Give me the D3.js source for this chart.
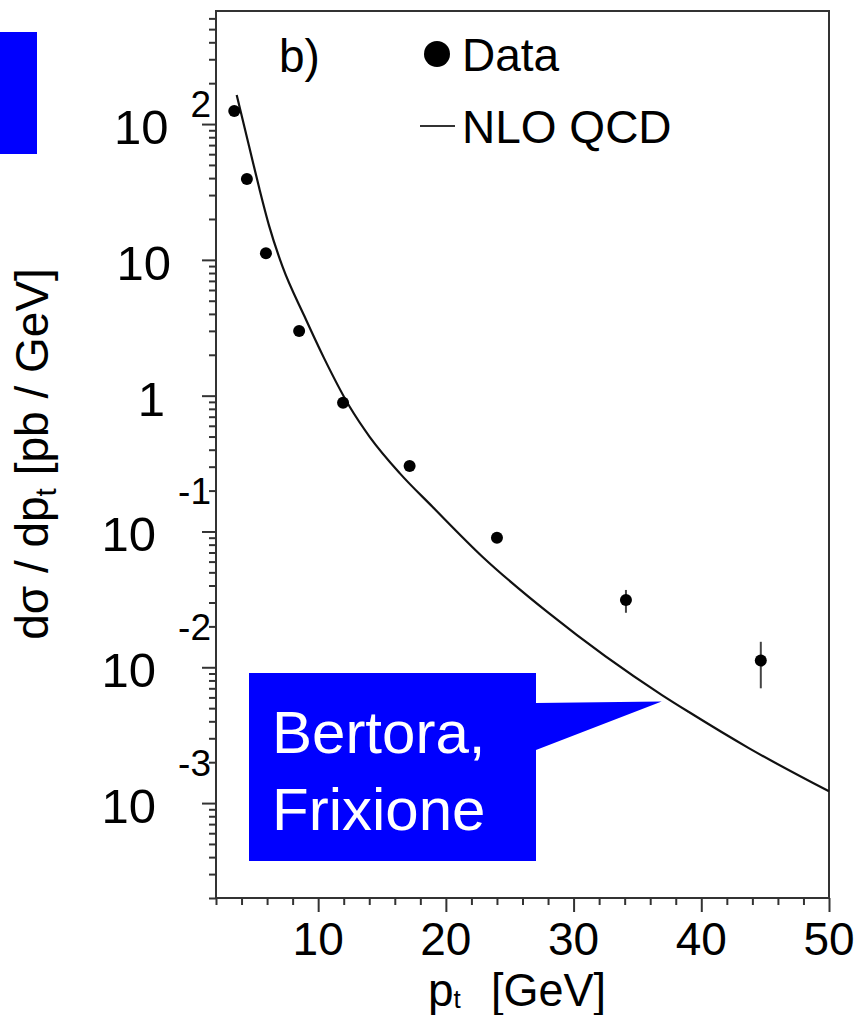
<!DOCTYPE html>
<html>
<head>
<meta charset="utf-8">
<script src="https://cdn.jsdelivr.net/npm/d3@7"></script>
<style>
  html, body { margin: 0; padding: 0; background: #fff; }
  svg { display: block; font-family: "Liberation Sans", Arial, Helvetica, sans-serif; }
</style>
</head>
<body>
<svg id="chart" width="862" height="1015"></svg>
<script>
// ---- data ----
const dataPt      = [3.43, 4.42, 5.91, 8.51, 11.95, 17.16, 24.0, 34.1, 44.66];
const dataValue   = [125, 39.4, 11.2, 2.99, 0.887, 0.303, 0.090, 0.0313, 0.0112];
const dataErrUp   = [8, 2.5, 0.7, 0.18, 0.05, 0.018, 0.006, 0.0058, 0.0042];
const dataErrDown = [8, 2.5, 0.7, 0.18, 0.05, 0.018, 0.006, 0.0061, 0.0042];

const nloPt    = [3.62, 4.60, 5.38, 6.16, 7.21, 8.90, 10.46, 12.47, 14.03, 16.38, 18.95, 22.86, 28.09, 36.92, 39.03, 43.72, 50];
const nloValue = [163.7, 68.1, 33.9, 17.8, 8.91, 3.89, 1.89, 0.828, 0.498, 0.269, 0.152, 0.0652, 0.0249, 0.00624, 0.00468, 0.00254, 0.00122];

const xMajorTicks  = [10, 20, 30, 40, 50];
const xTickLabels  = ["10", "20", "30", "40", "50"];
const yMajorTicks  = [1e-3, 1e-2, 1e-1, 1, 10, 100];
const yTickBase    = ["10", "10", "10", "1", "10", "10"];
const yTickExp     = ["-3", "-2", "-1", "", "", "2"];

const legendLabels = ["Data", "NLO QCD"];
const panelLabel = "b)";
const calloutLines = ["Bertora,", "Frixione"];
const calloutTip = [36.9, 0.0056];

// ---- layout ----
const svg = d3.select("#chart");
const L = 216, R = 829, T = 11, B = 898;
const x = d3.scaleLinear().domain([2, 50]).range([L, R]);
const y = d3.scaleLog().domain([2e-4, 680]).range([B, T]);

// top-left blue block
svg.append("rect").attr("x", 0).attr("y", 32).attr("width", 37).attr("height", 122).attr("fill", "#0000ff");

// frame
svg.append("rect").attr("x", L).attr("y", T).attr("width", R - L).attr("height", B - T)
  .attr("fill", "none").attr("stroke", "#333").attr("stroke-width", 2);

// x axis ticks
const xMinor = d3.range(2, 50, 2).filter(v => !xMajorTicks.includes(v));
svg.append("g").attr("transform", `translate(0,${B})`)
  .call(d3.axisBottom(x).tickValues(xMinor).tickSize(7).tickFormat(""))
  .call(g => { g.select(".domain").remove(); g.selectAll("line").attr("stroke", "#333").attr("stroke-width", 2); });
svg.append("g").attr("transform", `translate(0,${B})`)
  .call(d3.axisBottom(x).tickValues(xMajorTicks).tickSize(14).tickFormat(""))
  .call(g => { g.select(".domain").remove(); g.selectAll("line").attr("stroke", "#333").attr("stroke-width", 2); });
svg.append("g").selectAll("text").data(xMajorTicks).join("text")
  .attr("x", d => x(d)).attr("y", 955).attr("text-anchor", "middle")
  .attr("font-size", 46).attr("fill", "#000")
  .text((d, i) => xTickLabels[i]);

// y axis ticks
const yMinor = [];
for (let e = -4; e <= 2; e++) for (let k = 2; k <= 9; k++) {
  const v = k * Math.pow(10, e);
  if (v >= 2e-4 && v <= 680) yMinor.push(v);
}
svg.append("g").attr("transform", `translate(${L},0)`)
  .call(d3.axisLeft(y).tickValues(yMinor).tickSize(7).tickFormat(""))
  .call(g => { g.select(".domain").remove(); g.selectAll("line").attr("stroke", "#333").attr("stroke-width", 2); });
svg.append("g").attr("transform", `translate(${L},0)`)
  .call(d3.axisLeft(y).tickValues(yMajorTicks).tickSize(14).tickFormat(""))
  .call(g => { g.select(".domain").remove(); g.selectAll("line").attr("stroke", "#333").attr("stroke-width", 2); });

const yl = svg.append("g");
yMajorTicks.forEach((v, i) => {
  const ty = y(v);
  let baseEnd = 171;
  if (yTickExp[i]) {
    const exp = yl.append("text").attr("x", 211).attr("y", v > 10 ? ty - 7 : ty - 27)
      .attr("text-anchor", "end").attr("font-size", 37).text(yTickExp[i]);
    const w = exp.node().getComputedTextLength();
    baseEnd = 211 - w - 22;
  }
  if (yTickBase[i] === "1") baseEnd = 165;
  yl.append("text").attr("x", baseEnd).attr("y", ty + 20).attr("text-anchor", "end")
    .attr("font-size", 49).text(yTickBase[i]);
});

// axis titles
const yt = svg.append("text").attr("transform", "translate(48,454) rotate(-90)")
  .attr("text-anchor", "middle").attr("font-size", 46);
yt.append("tspan").text("dσ / dp");
yt.append("tspan").attr("font-size", 30).attr("dy", 8).text("t");
yt.append("tspan").attr("dy", -8).text(" [pb / GeV]");

const xt = svg.append("text").attr("x", 428).attr("y", 1006).attr("font-size", 46);
xt.append("tspan").text("p");
xt.append("tspan").attr("font-size", 26).attr("dy", 2).text("t");
svg.append("text").attr("x", 491).attr("y", 1006).attr("font-size", 46)
  .attr("textLength", 115).attr("lengthAdjust", "spacingAndGlyphs").text("[GeV]");

// NLO curve
const line = d3.line().x(d => x(d[0])).y(d => y(d[1])).curve(d3.curveMonotoneX);
svg.append("path").datum(nloPt.map((p, i) => [p, nloValue[i]]))
  .attr("d", line).attr("fill", "none").attr("stroke", "#111").attr("stroke-width", 2.2);

// data error bars and points
const pts = dataPt.map((p, i) => ({ p, v: dataValue[i], up: dataErrUp[i], dn: dataErrDown[i] }));
svg.append("g").selectAll("line").data(pts).join("line")
  .attr("x1", d => x(d.p)).attr("x2", d => x(d.p))
  .attr("y1", d => y(d.v + d.up)).attr("y2", d => y(d.v - d.dn))
  .attr("stroke", "#444").attr("stroke-width", 2);
svg.append("g").selectAll("circle").data(pts).join("circle")
  .attr("cx", d => x(d.p)).attr("cy", d => y(d.v)).attr("r", 6).attr("fill", "#000");

// panel label and legend
svg.append("text").attr("x", 279).attr("y", 72).attr("font-size", 46).text(panelLabel);
svg.append("circle").attr("cx", 437).attr("cy", 54).attr("r", 13).attr("fill", "#000");
svg.append("text").attr("x", 462).attr("y", 71).attr("font-size", 46).text(legendLabels[0]);
svg.append("line").attr("x1", 420).attr("x2", 455).attr("y1", 126).attr("y2", 126)
  .attr("stroke", "#333").attr("stroke-width", 2);
svg.append("text").attr("x", 462).attr("y", 143).attr("font-size", 46).text(legendLabels[1]);

// blue callout
const tipX = x(calloutTip[0]), tipY = y(calloutTip[1]);
const bx0 = 249, by0 = 673, bx1 = 536, by1 = 861;
svg.append("path")
  .attr("d", `M${bx0},${by0}H${bx1}V703L${tipX},${tipY}L${bx1},750V${by1}H${bx0}Z`)
  .attr("fill", "#0000ff");
svg.append("g").selectAll("text").data(calloutLines).join("text")
  .attr("x", 272).attr("y", (d, i) => 753 + i * 77)
  .attr("font-size", 60).attr("fill", "#fff").text(d => d);
</script>
</body>
</html>
